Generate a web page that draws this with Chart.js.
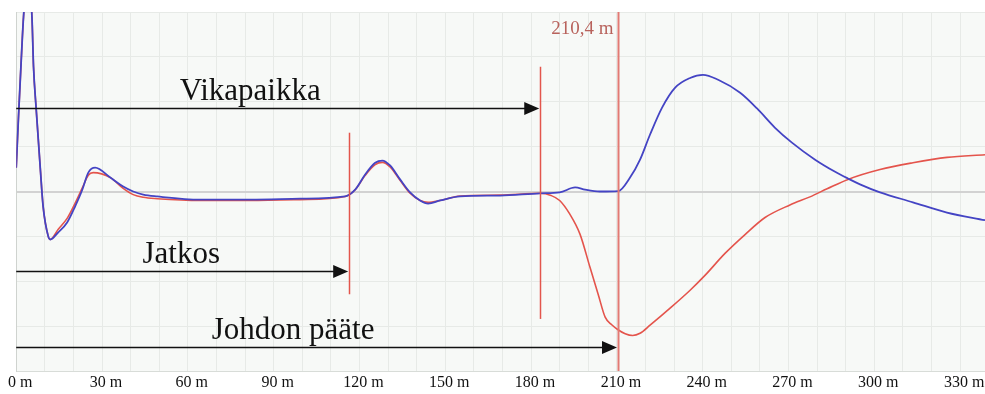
<!DOCTYPE html>
<html>
<head>
<meta charset="utf-8">
<script src="https://cdn.jsdelivr.net/npm/chart.js@4.4.0/dist/chart.umd.min.js"></script>
<style>
  html, body { margin: 0; padding: 0; background: #ffffff; }
  #wrap { width: 985px; height: 394px; }
</style>
</head>
<body>
<div id="wrap"><canvas id="tdrChart"></canvas></div>
<script>
// distance (m) and reflection level
const blueDist = [0, 0.8, 1.64, 2.55, 4.0, 5.5, 6.05, 7.0, 8.4, 9.4, 11.2, 11.9, 14.7, 17.8, 20.6, 23.1, 25.2, 27.6, 32.9, 37.4, 40.9, 44.4, 49.3, 64.3, 81.8, 99.3, 115, 118.5, 122, 125.5, 128, 130.7, 134.2, 137.7, 141.2, 144, 148.2, 155.2, 169.2, 183.2, 190, 195.4, 198.9, 204, 210.5, 214.6, 218.1, 221.6, 225.8, 230.3, 235.6, 240.1, 245.4, 253.1, 259, 265.3, 271.2, 279.3, 286.3, 290.8, 295, 302, 313.5, 325.4, 338.7];
const blueVal = [0.53, 1.67, 2.78, 3.89, 4.9, 3.89, 2.78, 1.82, 0.53, -0.33, -1.0, -1.07, -0.91, -0.69, -0.33, 0.04, 0.42, 0.53, 0.31, 0.11, 0, -0.07, -0.11, -0.18, -0.18, -0.16, -0.11, 0.04, 0.38, 0.64, 0.69, 0.58, 0.27, -0.02, -0.2, -0.27, -0.2, -0.11, -0.09, -0.04, -0.02, 0.09, 0.04, 0, 0.01, 0.31, 0.71, 1.27, 1.87, 2.31, 2.53, 2.6, 2.49, 2.2, 1.85, 1.42, 1.09, 0.71, 0.44, 0.29, 0.16, -0.02, -0.24, -0.47, -0.64];

const redDist = [0, 0.8, 1.64, 2.55, 4.0, 5.5, 6.05, 7.0, 8.4, 9.4, 11.2, 11.9, 14.7, 17.8, 20.6, 23.1, 25.2, 26.9, 32.9, 37.4, 40.9, 44.4, 49.3, 64.3, 81.8, 99.3, 115, 118.5, 122, 125.5, 128, 130.7, 134.2, 137.7, 141.2, 144, 148.2, 155.2, 169.2, 183.2, 187, 190, 193.5, 197.1, 200.6, 203.5, 205.9, 208.2, 210.4, 212.9, 215.5, 218.1, 221.6, 228.6, 235.6, 240.8, 247.8, 254.8, 261.8, 270.5, 277.5, 283.5, 290.8, 302, 313.5, 325.4, 338.7];
const redVal = [0.53, 1.67, 2.78, 3.89, 4.9, 3.89, 2.78, 1.82, 0.53, -0.33, -1.0, -1.07, -0.84, -0.6, -0.26, 0.08, 0.36, 0.42, 0.31, 0.07, -0.07, -0.13, -0.16, -0.2, -0.2, -0.18, -0.11, 0.04, 0.36, 0.6, 0.65, 0.55, 0.25, -0.04, -0.2, -0.24, -0.2, -0.1, -0.08, -0.04, -0.09, -0.2, -0.5, -0.95, -1.69, -2.3, -2.8, -2.97, -3.08, -3.17, -3.21, -3.16, -2.98, -2.6, -2.2, -1.87, -1.38, -0.96, -0.58, -0.3, -0.12, 0.06, 0.27, 0.49, 0.64, 0.76, 0.82];

// x-axis labels every 30 m, grid every 10 m
const tickValues = [0, 10, 20, 30, 40, 50, 60, 70, 80, 90, 100, 110, 120, 130, 140, 150, 160, 170, 180, 190, 200, 210, 220, 230, 240, 250, 260, 270, 280, 290, 300, 310, 320, 330];
const labelledTicks = [0, 30, 60, 90, 120, 150, 180, 210, 240, 270, 300, 330];

// markers: distance, top and bottom level (null = full height)
const markerDist = [116.4, 183.2, 210.4];
const markerTop = [1.31, 2.78, null];
const markerBottom = [-2.29, -2.84, null];
const markerLabel = ['', '', '210,4 m'];

// arrows from 0 m to a marker, with their captions
const arrowText = ['Vikapaikka', 'Jatkos', 'Johdon pääte'];
const arrowEnd = [183.2, 116.4, 210.4];
const arrowLevel = [1.87, -1.78, -3.47];
const textCenter = [81.8, 57.7, 96.8];

const toPoints = (xs, ys) => xs.map((x, i) => ({ x: x, y: ys[i] }));

const plotBg = {
  id: 'plotBg',
  beforeDraw(chart) {
    const { ctx, chartArea: a } = chart;
    ctx.save();
    ctx.fillStyle = '#f7f9f7';
    ctx.fillRect(a.left, a.top, a.right - a.left, a.bottom - a.top);
    ctx.restore();
  }
};

const markers = {
  id: 'markers',
  afterDatasetsDraw(chart) {
    const { ctx, chartArea: a, scales } = chart;
    const x = scales.x, y = scales.y;
    ctx.save();
    // red cursor lines
    markerDist.forEach((d, i) => {
      const px = Math.round(x.getPixelForValue(d)) + 0.5;
      const top = markerTop[i] === null ? a.top : y.getPixelForValue(markerTop[i]);
      const bot = markerBottom[i] === null ? a.bottom : y.getPixelForValue(markerBottom[i]);
      ctx.strokeStyle = markerTop[i] === null ? '#e27a74' : '#e3564c';
      ctx.lineWidth = markerTop[i] === null ? 2 : 1.5;
      ctx.beginPath();
      ctx.moveTo(px, top);
      ctx.lineTo(px, bot);
      ctx.stroke();
      if (markerLabel[i]) {
        ctx.fillStyle = '#b8625c';
        ctx.font = '19px "Liberation Serif"';
        ctx.textAlign = 'right';
        ctx.textBaseline = 'middle';
        ctx.fillText(markerLabel[i], px - 5, a.top + 17);
      }
    });
    // black arrows
    arrowText.forEach((t, i) => {
      const x0 = x.getPixelForValue(0);
      const x1 = x.getPixelForValue(arrowEnd[i]) - 1;
      const py = Math.round(y.getPixelForValue(arrowLevel[i])) + 0.5;
      ctx.strokeStyle = '#111111';
      ctx.fillStyle = '#111111';
      ctx.lineWidth = 1.5;
      ctx.beginPath();
      ctx.moveTo(x0, py);
      ctx.lineTo(x1 - 12, py);
      ctx.stroke();
      ctx.beginPath();
      ctx.moveTo(x1, py);
      ctx.lineTo(x1 - 15, py - 6.5);
      ctx.lineTo(x1 - 15, py + 6.5);
      ctx.closePath();
      ctx.fill();
      ctx.font = '31px "Liberation Serif"';
      ctx.textAlign = 'center';
      ctx.textBaseline = 'alphabetic';
      ctx.fillText(t, x.getPixelForValue(textCenter[i]), py - 9);
    });
    ctx.restore();
  }
};

const ctx = document.getElementById('tdrChart').getContext('2d');
const chart = new Chart(ctx, {
  type: 'line',
  data: {
    datasets: [
      {
        label: 'Sininen',
        data: toPoints(blueDist, blueVal),
        borderColor: '#4444c4',
        borderWidth: 1.8,
        pointRadius: 0,
        cubicInterpolationMode: 'monotone',
      },
      {
        label: 'Punainen',
        data: toPoints(redDist, redVal),
        borderColor: '#e4544c',
        borderWidth: 1.6,
        pointRadius: 0,
        cubicInterpolationMode: 'monotone',
      },
    ],
  },
  options: {
    responsive: true,
    maintainAspectRatio: false,
    animation: false,
    layout: { padding: { left: 16, top: 12, right: 0, bottom: -1 } },
    plugins: {
      legend: { display: false },
      tooltip: { enabled: false },
    },
    scales: {
      x: {
        type: 'linear',
        min: 0,
        max: 338.7,
        afterBuildTicks: (scale) => {
          scale.ticks = tickValues.map(v => ({ value: v }));
        },
        border: { display: true, color: '#d8dcd8' },
        grid: { color: '#e7eae7', drawTicks: false },
        ticks: {
          autoSkip: false,
          maxRotation: 0,
          padding: 4,
          labelOffset: 4,
          color: '#111111',
          font: { family: 'Liberation Serif', size: 16, lineHeight: 1 },
          callback: (v) => (labelledTicks.includes(v) ? v + ' m' : ''),
        },
      },
      y: {
        min: -4,
        max: 4,
        border: { display: true, color: '#cfd3cf' },
        grid: {
          drawTicks: false,
          color: (c) => (c.tick && c.tick.value === 0 ? '#d2d2d2' : '#e7eae7'),
          lineWidth: (c) => (c.tick && c.tick.value === 0 ? 2 : 1),
        },
        ticks: { display: false, stepSize: 1 },
      },
    },
  },
  plugins: [plotBg, markers],
});
</script>
</body>
</html>
